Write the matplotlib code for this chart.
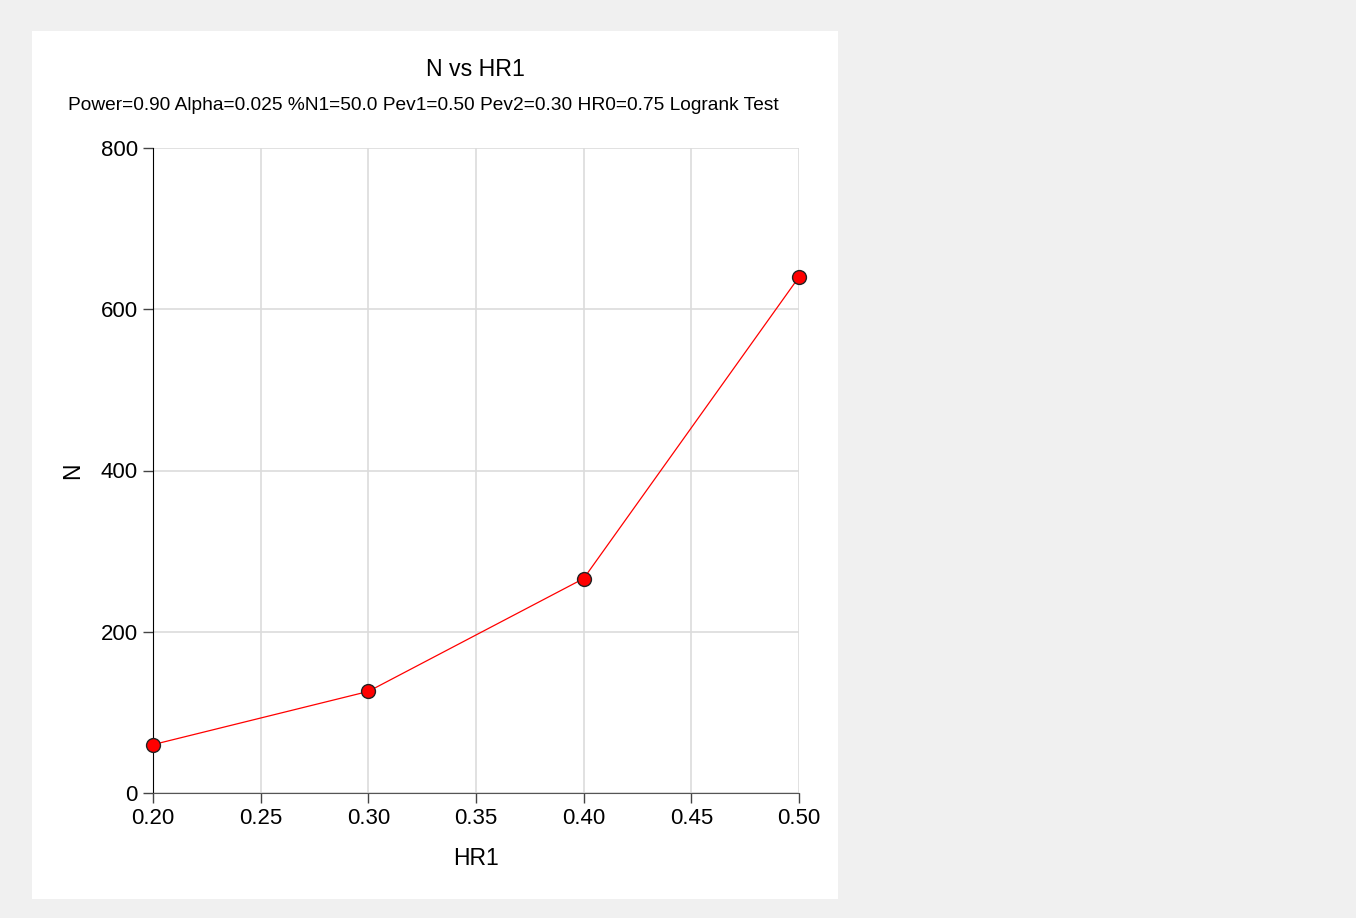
import matplotlib.pyplot as plt
from matplotlib.patches import Rectangle

# Data
hr1 = [0.20, 0.30, 0.40, 0.50]
n_values = [60, 126, 266, 640]
x_ticks = [0.20, 0.25, 0.30, 0.35, 0.40, 0.45, 0.50]
y_ticks = [0, 200, 400, 600, 800]

plt.rcParams['font.family'] = ['Liberation Sans', 'DejaVu Sans']

fig = plt.figure(figsize=(13.56, 9.18), dpi=100, facecolor='#f0f0f0')

# White panel behind the chart
fig.patches.append(Rectangle((32 / 1356, 1 - 899 / 918), 806 / 1356, 868 / 918,
                             transform=fig.transFigure, facecolor='white',
                             edgecolor='none', zorder=-1))

ax = fig.add_axes([153 / 1356, 1 - 793 / 918, 646 / 1356, 645 / 918])
ax.set_zorder(1)
ax.set_facecolor('white')

ax.plot(hr1, n_values, color='red', linewidth=0.9, marker='o', markersize=10,
        markerfacecolor='red', markeredgecolor='#222222', markeredgewidth=1.0,
        clip_on=False, zorder=3)

ax.set_xlim(0.2, 0.5)
ax.set_ylim(0, 800)
ax.set_xticks(x_ticks)
ax.set_xticklabels([f'{t:.2f}' for t in x_ticks])
ax.set_yticks(y_ticks)

ax.grid(True, color='#dcdcdc', linewidth=1.2)
ax.set_axisbelow(True)

for side in ['top', 'right']:
    ax.spines[side].set_visible(False)
ax.spines['left'].set_color('black')
ax.spines['bottom'].set_color('#555555')
ax.spines['left'].set_zorder(2)

ax.tick_params(axis='both', labelsize=16, length=7, width=1, direction='out')
ax.tick_params(axis='x', colors='#444444', labelcolor='black', pad=4)
ax.tick_params(axis='y', colors='#444444', labelcolor='black', pad=4)

ax.set_xlabel('HR1', fontsize=16.5, labelpad=13)
ax.set_ylabel('N', fontsize=16.5, labelpad=12)

fig.text(475 / 1356, 1 - 70 / 918, 'N vs HR1', ha='center', va='center', fontsize=16.7)
fig.text(423 / 1356, 1 - 106 / 918,
         'Power=0.90 Alpha=0.025 %N1=50.0 Pev1=0.50 Pev2=0.30 HR0=0.75 Logrank Test',
         ha='center', va='center', fontsize=13.8)

fig.savefig('out.png', dpi=100, facecolor=fig.get_facecolor())
